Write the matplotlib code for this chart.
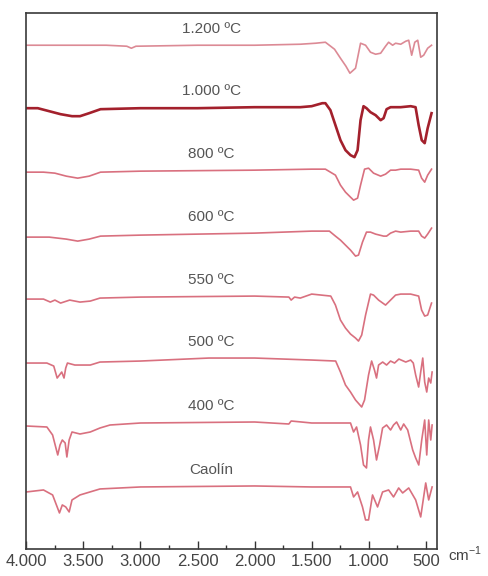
import matplotlib
matplotlib.use("Agg")
import matplotlib.pyplot as plt
from matplotlib.ticker import MultipleLocator, FuncFormatter

# ---- data (wavenumber cm-1, stacked transmittance in arbitrary units) ----
labels = ["1.200 ºC", "1.000 ºC", "800 ºC", "600 ºC", "550 ºC", "500 ºC", "400 ºC", "Caolín"]

wn_1200 = [4000, 3300, 3120, 3080, 3040, 2500, 2000, 1600, 1467, 1380, 1300, 1248, 1200, 1165,
           1116, 1072, 1028, 985, 940, 896, 853, 826, 791, 765, 720, 676, 650, 624, 597, 571,
           545, 519, 484, 450]
t_1200 = [503, 503, 502, 500, 502, 503, 503, 504, 505, 506, 499, 490, 482, 475,
          480, 505, 503, 496, 494, 495, 502, 506, 503, 505, 504, 507, 508, 493, 506, 508,
          491, 493, 500, 503]

wn_1000 = [4000, 3900, 3800, 3700, 3600, 3530, 3450, 3350, 3000, 2500, 2000, 1600, 1500, 1407,
           1380, 1336, 1292, 1248, 1204, 1160, 1125, 1098, 1072, 1046, 1020, 985, 940, 896,
           870, 844, 809, 720, 633, 590, 563, 536, 510, 484, 450]
t_1000 = [440, 440, 437, 434, 432, 432, 435, 439, 440, 440, 441, 441, 442, 445,
          445, 438, 423, 408, 398, 393, 391, 398, 428, 442, 440, 436, 433, 428,
          430, 439, 441, 441, 442, 441, 423, 408, 405, 420, 435]

wn_800 = [4000, 3850, 3750, 3650, 3550, 3450, 3350, 3000, 2000, 1500, 1380, 1292, 1248, 1204,
          1160, 1133, 1098, 1072, 1037, 1002, 958, 896, 853, 809, 765, 720, 633, 563, 537,
          510, 484, 450]
t_800 = [376, 376, 375, 372, 370, 372, 376, 377, 378, 379, 379, 373, 363, 356,
         351, 348, 350, 363, 379, 380, 375, 372, 374, 378, 378, 379, 379, 378, 370,
         366, 373, 379]

wn_600 = [4000, 3800, 3650, 3550, 3450, 3350, 3000, 2000, 1500, 1345, 1292, 1248, 1204, 1160,
          1116, 1090, 1055, 1020, 985, 940, 870, 844, 809, 765, 720, 633, 563, 537, 510,
          484, 450]
t_600 = [311, 311, 309, 307, 309, 312, 313, 315, 317, 317, 312, 308, 303, 298,
         292, 293, 306, 316, 316, 314, 312, 312, 315, 317, 316, 317, 317, 312, 310,
         314, 320]

wn_550 = [4000, 3850, 3790, 3750, 3700, 3620, 3530, 3440, 3355, 3000, 2000, 1700, 1680, 1650,
          1600, 1500, 1333, 1292, 1248, 1204, 1160, 1116, 1090, 1062, 1028, 985, 958, 914,
          853, 809, 765, 720, 633, 563, 537, 510, 484, 450]
t_550 = [249, 249, 246, 248, 245, 248, 246, 247, 250, 251, 252, 251, 248, 251,
         250, 254, 252, 243, 228, 220, 214, 210, 207, 213, 233, 254, 253, 248,
         243, 248, 253, 254, 254, 252, 238, 232, 233, 245]

wn_500 = [4000, 3820, 3760, 3730, 3690, 3670, 3655, 3640, 3575, 3440, 3355, 3000, 2400, 2000,
          1500, 1290, 1248, 1204, 1160, 1116, 1062, 1037, 1002, 975, 950, 932, 914, 878,
          844, 809, 774, 736, 676, 633, 610, 589, 563, 545, 527, 510, 492, 475, 457, 445]
t_500 = [185, 185, 182, 170, 176, 170, 180, 185, 183, 183, 186, 187, 190, 190,
         188, 187, 176, 163, 156, 148, 141, 148, 173, 187, 178, 170, 183, 186,
         183, 187, 185, 189, 186, 188, 185, 173, 161, 176, 190, 166, 156, 170, 165, 176]

wn_400 = [4000, 3820, 3770, 3725, 3705, 3685, 3660, 3645, 3625, 3600, 3530, 3440, 3355, 3267,
          3000, 2000, 1700, 1680, 1500, 1160, 1133, 1107, 1072, 1046, 1020, 1002, 985, 958,
          932, 905, 879, 844, 809, 783, 756, 720, 694, 659, 615, 589, 562, 536, 510, 492,
          475, 457, 445]
t_400 = [122, 121, 113, 93, 103, 108, 105, 91, 108, 116, 114, 116, 120, 123,
         125, 126, 124, 127, 125, 125, 116, 121, 103, 83, 80, 108, 121, 108,
         88, 103, 120, 123, 118, 123, 126, 118, 124, 118, 98, 90, 83, 108, 128, 93,
         128, 108, 123]

wn_caolin = [4000, 3850, 3770, 3710, 3685, 3655, 3625, 3600, 3530, 3355, 3000, 2000, 1500, 1160,
             1133, 1098, 1055, 1028, 1002, 967, 923, 879, 826, 783, 738, 703, 650, 589, 545,
             501, 475, 445]
t_caolin = [56, 58, 53, 35, 43, 41, 36, 48, 53, 59, 61, 62, 61, 61,
            51, 56, 41, 28, 28, 53, 41, 56, 58, 51, 60, 55, 60, 48, 31,
            65, 48, 61]

series = [
    (wn_1200, t_1200), (wn_1000, t_1000), (wn_800, t_800), (wn_600, t_600),
    (wn_550, t_550), (wn_500, t_500), (wn_400, t_400), (wn_caolin, t_caolin),
]

# ---- styling ----
plt.rcParams['font.family'] = ['Liberation Sans', 'DejaVu Sans']
plt.rcParams['mathtext.fontset'] = 'custom'
plt.rcParams['mathtext.rm'] = 'Liberation Sans'
light = "#d9707f"
colors = ["#dc8a95", "#a3202c", light, light, light, light, light, light]
widths = [1.2, 1.9, 1.2, 1.2, 1.2, 1.2, 1.2, 1.2]

fig = plt.figure(figsize=(4.88, 5.76), dpi=100)
ax = fig.add_axes([0.054, 0.047, 0.842, 0.930])

for (wn, t), c, lw in zip(series, colors, widths):
    ax.plot(wn, t, color=c, lw=lw, solid_joinstyle="round")

for (wn, t), lab in zip(series, labels):
    base = t[wn.index(2000)]
    ax.text(2380, base + 16, lab, ha="center", va="center", fontsize=11, color="#555555")

ax.set_xlim(4000, 400)
ax.set_ylim(-1, 535)
ax.set_yticks([])

ax.xaxis.set_major_locator(MultipleLocator(500))
ax.xaxis.set_minor_locator(MultipleLocator(250))
ax.xaxis.set_major_formatter(FuncFormatter(lambda v, p: f"{int(v):,}".replace(",", ".")))
ax.tick_params(axis="x", which="major", direction="in", length=6, width=1.0,
               labelsize=12, labelcolor="#444444", color="#333333", pad=4)
ax.tick_params(axis="x", which="minor", direction="in", length=3, width=1.0, color="#333333")

for s in ax.spines.values():
    s.set_color("#3a3a3a")
    s.set_linewidth(1.2)

fig.text(0.918, 0.037, r"cm$^{\mathrm{-1}}$", ha="left", va="center", fontsize=11, color="#444444")

fig.savefig("out.png", dpi=100)
